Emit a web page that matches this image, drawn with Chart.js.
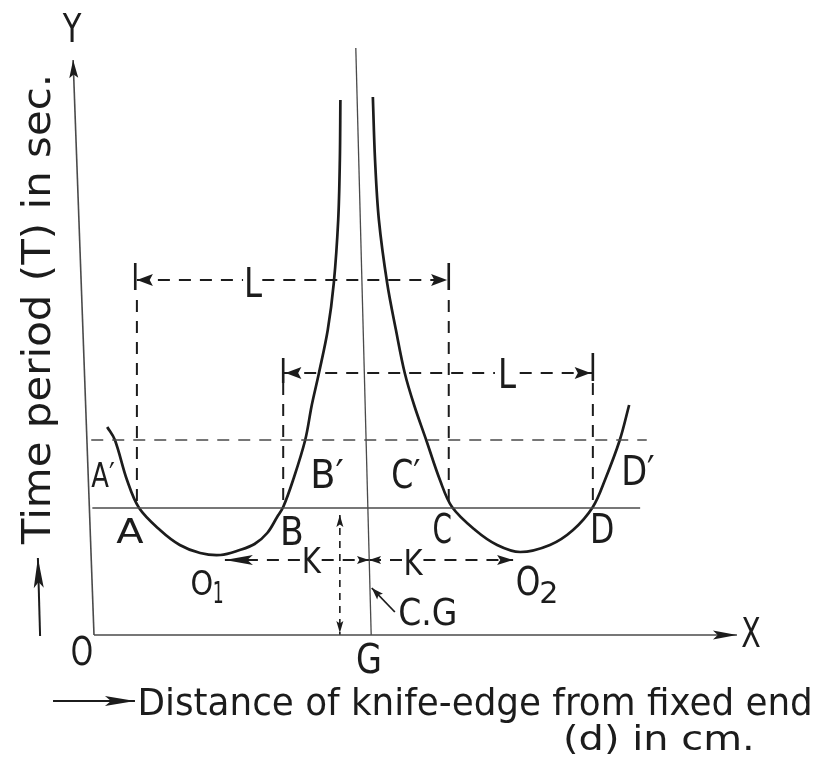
<!DOCTYPE html>
<html>
<head>
<meta charset="utf-8">
<script src="https://cdn.jsdelivr.net/npm/chart.js@4.4.0/dist/chart.umd.min.js"></script>
<style>
  html, body { margin: 0; padding: 0; background: #fff; }
</style>
</head>
<body>
<canvas id="pendulumChart" width="816" height="761"></canvas>
<script>
// Compound pendulum: time period T (s) against knife-edge distance d (cm)

// Curve on the first side of the C.G.
const leftCurveD = [2.4, 3.8, 6.0, 8.2, 12.0, 15.6, 19.3, 23.0, 26.5, 29.2, 31.5, 33.3, 34.4, 36.2, 38.4, 39.6, 40.9, 42.5, 43.6, 44.4, 44.7, 44.8];
const leftCurveT = [2.08, 1.95, 1.55, 1.27, 1.05, 0.90, 0.82, 0.80, 0.85, 0.91, 1.02, 1.18, 1.28, 1.55, 1.95, 2.30, 2.62, 3.05, 3.52, 4.15, 4.75, 5.35];

// Curve on the other side of the C.G.
const rightCurveD = [50.7, 51.1, 51.8, 53.3, 54.9, 56.5, 58.2, 60.4, 62.9, 65.1, 69.3, 73.3, 77.5, 82.9, 87.1, 90.7, 92.9, 95.6, 97.3];
const rightCurveT = [5.38, 4.75, 4.15, 3.52, 3.05, 2.62, 2.30, 1.95, 1.55, 1.28, 1.05, 0.90, 0.83, 0.90, 1.05, 1.28, 1.55, 1.95, 2.30];

// Reference positions
const dG = 50;
const dA = 7.8, dB = 34.4, dC = 64.5, dD = 90.7;
const dO1 = 23.8, dO2 = 76.2;
const dKnife = 44.7;
const levelAB = 1.27;
const levelPrime = 1.95;
const levelL1 = 3.55;
const levelL2 = 2.62;
const levelK = 0.75;
const xAxisEnd = 116.9;
const yAxisTop = [-3.8, 5.75];
const gLineTop = [47.6, 5.87];
const gLineBottom = [50.4, 0];

function pts(ds, ts) {
  return ds.map((d, i) => ({ x: d, y: ts[i] }));
}
function seg(a, b) {
  return [{ x: a[0], y: a[1] }, { x: b[0], y: b[1] }];
}

const INK = "#1c1c1c";
const THIN = "#4a4a4a";
const DASH = [12, 9];

function lineSet(data, opts) {
  return Object.assign({
    data: data,
    showLine: true,
    borderColor: INK,
    borderWidth: 2,
    pointRadius: 0,
    tension: 0,
    fill: false,
  }, opts || {});
}

const datasets = [
  // axes and C.G. line
  lineSet(seg([0, 0], yAxisTop), { borderColor: THIN, borderWidth: 1.6 }),
  lineSet(seg([0, 0], [xAxisEnd, 0]), { borderColor: THIN, borderWidth: 1.6 }),
  lineSet(seg(gLineTop, gLineBottom), { borderColor: THIN, borderWidth: 1.3 }),
  // level lines
  lineSet(seg([-0.3, levelAB], [99.3, levelAB]), { borderColor: THIN, borderWidth: 1.5 }),
  lineSet(seg([-0.5, levelPrime], [100.5, levelPrime]), { borderColor: THIN, borderWidth: 1.6, borderDash: DASH }),
  // dashed verticals
  lineSet(seg([dA, levelL1 - 0.2], [dA, levelAB]), { borderDash: DASH }),
  lineSet(seg([dC, levelL1 - 0.2], [dC, levelAB]), { borderDash: DASH }),
  lineSet(seg([dB, levelL2 - 0.1], [dB, levelAB]), { borderDash: DASH }),
  lineSet(seg([dD, levelL2 - 0.1], [dD, levelAB]), { borderDash: DASH }),
  // L end bars
  lineSet(seg([dA - 0.3, levelL1 + 0.17], [dA - 0.3, levelL1 - 0.1]), { borderWidth: 2.6 }),
  lineSet(seg([dC, levelL1 + 0.17], [dC, levelL1 - 0.1]), { borderWidth: 2.6 }),
  lineSet(seg([dB, levelL2 + 0.15], [dB, levelL2 - 0.1]), { borderWidth: 2.6 }),
  lineSet(seg([dD, levelL2 + 0.2], [dD, levelL2 - 0.08]), { borderWidth: 2.6 }),
  // L dimension lines, split around the label
  lineSet(seg([dA, levelL1], [27.1, levelL1]), { borderDash: DASH }),
  lineSet(seg([30.6, levelL1], [dC, levelL1]), { borderDash: DASH }),
  lineSet(seg([dB, levelL2], [72.9, levelL2]), { borderDash: DASH }),
  lineSet(seg([77.4, levelL2], [dD, levelL2]), { borderDash: DASH }),
  // K dimension lines
  lineSet(seg([dO1, levelK], [37.6, levelK]), { borderDash: DASH }),
  lineSet(seg([41.4, levelK], [dG, levelK]), { borderDash: DASH }),
  lineSet(seg([dG, levelK], [56.2, levelK]), { borderDash: DASH }),
  lineSet(seg([59.9, levelK], [dO2, levelK]), { borderDash: DASH }),
  // knife-edge height marker
  lineSet(seg([dKnife, levelAB - 0.07], [dKnife, 0]), { borderDash: [7, 6], borderWidth: 1.6 }),
  // C.G. pointer
  lineSet(seg([54.7, 0.23], [50.5, 0.47]), { borderWidth: 1.8 }),
  // title arrows
  lineSet(seg([-9.8, -0.01], [-10.2, 0.77]), { borderWidth: 2 }),
  lineSet(seg([-7.45, -0.66], [7.45, -0.66]), { borderWidth: 2 }),
  // T-d curves
  lineSet(pts(leftCurveD, leftCurveT), { borderWidth: 2.7, tension: 0.35 }),
  lineSet(pts(rightCurveD, rightCurveT), { borderWidth: 2.7, tension: 0.35 }),
];

const arrowHeads = [
  { tip: yAxisTop, from: [0, 0], len: 18, half: 4.5 },
  { tip: [xAxisEnd, 0], from: [0, 0], len: 24, half: 4.5 },
  { tip: [dA, levelL1], from: [dC, levelL1], len: 16, half: 6 },
  { tip: [dC - 0.3, levelL1], from: [dA, levelL1], len: 16, half: 6 },
  { tip: [dB + 0.4, levelL2], from: [dD, levelL2], len: 16, half: 6 },
  { tip: [dD - 0.4, levelL2], from: [dB, levelL2], len: 16, half: 6 },
  { tip: [dO1, levelK], from: [dG, levelK], len: 28, half: 5 },
  { tip: [dO2, levelK], from: [dG, levelK], len: 16, half: 5 },
  { tip: [dG, levelK], from: [dO1, levelK], len: 12, half: 4 },
  { tip: [dG, levelK], from: [dO2, levelK], len: 12, half: 4 },
  { tip: [dKnife, 1.2], from: [dKnife, 0], len: 12, half: 3.5 },
  { tip: [dKnife, 0.02], from: [dKnife, 1.2], len: 12, half: 3.5 },
  { tip: [50.5, 0.47], from: [54.7, 0.23], len: 12, half: 4 },
  { tip: [-10.2, 0.77], from: [-9.8, -0.01], len: 30, half: 5 },
  { tip: [7.45, -0.66], from: [-7.45, -0.66], len: 30, half: 5 },
];

// text, centre d, baseline T, cap height px, ink width px
const labels = [
  ["Y", -4.0, 5.93, 29, 20],
  ["X", 119.45, -0.12, 30, 18],
  ["O", -2.18, -0.30, 28, 20],
  ["G", 50.0, -0.38, 30, 22],
  ["A\u2032", 1.64, 1.48, 25, 23],
  ["A", 6.55, 0.92, 25, 28],
  ["B\u2032", 42.36, 1.47, 28, 30],
  ["B", 36.0, 0.90, 28, 19],
  ["C\u2032", 56.7, 1.47, 28, 27],
  ["C", 63.3, 0.92, 30, 17],
  ["D\u2032", 98.9, 1.50, 30, 30],
  ["D", 92.4, 0.92, 30, 20],
  ["O", 19.6, 0.40, 25, 21],
  ["1", 22.6, 0.32, 22, 8],
  ["O", 78.9, 0.40, 28, 22],
  ["2", 82.7, 0.32, 22, 15],
  ["K", 39.5, 0.62, 26, 18],
  ["K", 58.0, 0.60, 26, 18],
  ["L", 28.9, 3.38, 30, 15],
  ["L", 75.1, 2.47, 30, 15],
  ["C.G", 60.7, 0.10, 27, 55],
  ["Distance of knife-edge from fixed end", 69.3, -0.80, 27, 670],
  ["(d) in cm.", 102.7, -1.15, 25, 186],
];
const yTitle = ["Time period (T) in sec.", -8.0, 3.26, 28, 468];

function drawFitted(ctx, text, cx, base, capH, width, rotate) {
  const size = capH / 0.73;
  ctx.font = size + 'px "DejaVu Sans", sans-serif';
  const m = ctx.measureText(text);
  const ink = m.actualBoundingBoxLeft + m.actualBoundingBoxRight;
  ctx.save();
  ctx.translate(cx, base);
  if (rotate) ctx.rotate(-Math.PI / 2);
  ctx.scale(width / ink, 1);
  ctx.textAlign = "center";
  ctx.textBaseline = "alphabetic";
  ctx.fillText(text, 0, 0);
  ctx.restore();
}

const annotate = {
  id: "annotate",
  afterDatasetsDraw(chart) {
    const ctx = chart.ctx;
    const sx = chart.scales.x, sy = chart.scales.y;
    const px = (d) => sx.getPixelForValue(d);
    const py = (t) => sy.getPixelForValue(t);

    ctx.save();
    ctx.fillStyle = INK;
    arrowHeads.forEach((a) => {
      const tx = px(a.tip[0]), ty = py(a.tip[1]);
      const fx = px(a.from[0]), fy = py(a.from[1]);
      const ang = Math.atan2(ty - fy, tx - fx);
      ctx.save();
      ctx.translate(tx, ty);
      ctx.rotate(ang);
      ctx.beginPath();
      ctx.moveTo(0, 0);
      ctx.lineTo(-a.len, -a.half);
      ctx.lineTo(-a.len * 0.8, 0);
      ctx.lineTo(-a.len, a.half);
      ctx.closePath();
      ctx.fill();
      ctx.restore();
    });

    labels.forEach((l) => {
      drawFitted(ctx, l[0], px(l[1]), py(l[2]), l[3], l[4], false);
    });
    drawFitted(ctx, yTitle[0], px(yTitle[1]), py(yTitle[2]), yTitle[3], yTitle[4], true);
    ctx.restore();
  },
};

const ctx = document.getElementById("pendulumChart").getContext("2d");
new Chart(ctx, {
  type: "scatter",
  data: { datasets: datasets },
  options: {
    responsive: false,
    animation: false,
    layout: { padding: 0 },
    plugins: { legend: { display: false }, tooltip: { enabled: false } },
    scales: {
      x: { type: "linear", display: false, min: -94 / 5.5, max: (816 - 94) / 5.5 },
      y: { type: "linear", display: false, min: (635 - 761) / 100, max: 6.35 },
    },
  },
  plugins: [annotate],
});
</script>
</body>
</html>
